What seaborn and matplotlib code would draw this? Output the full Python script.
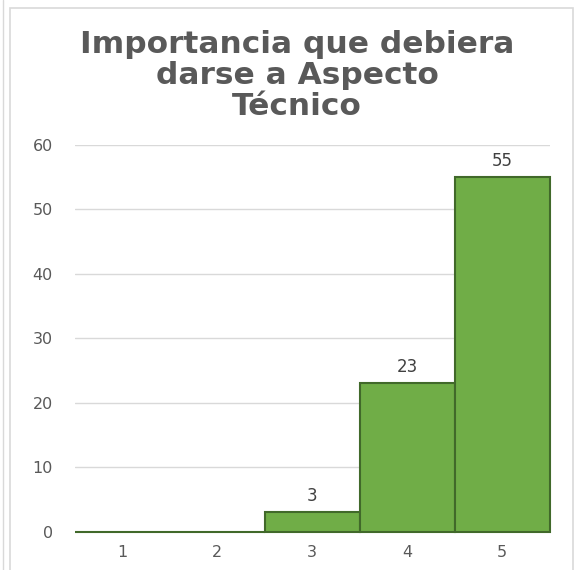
import matplotlib
matplotlib.use("Agg")
import matplotlib.pyplot as plt
import seaborn as sns
import pandas as pd
from matplotlib.patches import Rectangle

categories = ["1", "2", "3", "4", "5"]
values = [0, 0, 3, 23, 55]
title = "Importancia que debiera\ndarse a Aspecto\nTécnico"

sns.set_style("white")
plt.rcParams["font.family"] = ["DejaVu Sans"]

df = pd.DataFrame({"cat": categories, "val": values})

fig = plt.figure(figsize=(5.76, 5.70), dpi=100)
ax = fig.add_axes([0.130, 0.0675, 0.824, 0.678])

sns.barplot(data=df, x="cat", y="val", color="#70AD47", saturation=1,
            edgecolor="#41692A", linewidth=1.5, width=1.0, ax=ax, zorder=3)
for p in ax.patches:
    p.set_clip_on(False)

ax.set_ylim(0, 60)
ax.set_yticks(range(0, 61, 10))
ax.set_xlim(-0.5, 4.5)
ax.grid(axis="y", color="#D9D9D9", linewidth=1, zorder=0)
ax.set_axisbelow(True)
for s in ax.spines.values():
    s.set_visible(False)
ax.set_xlabel("")
ax.set_ylabel("")
ax.tick_params(axis="both", length=0, labelsize=11.5, labelcolor="#595959")
ax.tick_params(axis="y", pad=16)
ax.tick_params(axis="x", pad=10)

labels = [str(v) if v else "" for v in values]
ax.bar_label(ax.containers[0], labels=labels, padding=5, fontsize=12,
             color="#404040")

fig.text(0.516, 0.868, title, ha="center", va="center", fontsize=22.5,
         fontweight="bold", color="#595959", linespacing=1.08)

# chart frame
fig.patches.append(Rectangle((10 / 576, -0.01), 563 / 576, 1 - 8 / 570 + 0.01,
                             transform=fig.transFigure, fill=False,
                             edgecolor="#D9D9D9", linewidth=1.2))
fig.lines.append(plt.Line2D([3 / 576, 3 / 576], [0, 1], transform=fig.transFigure,
                            color="#D9D9D9", linewidth=1))

fig.savefig("out.png", dpi=100)
